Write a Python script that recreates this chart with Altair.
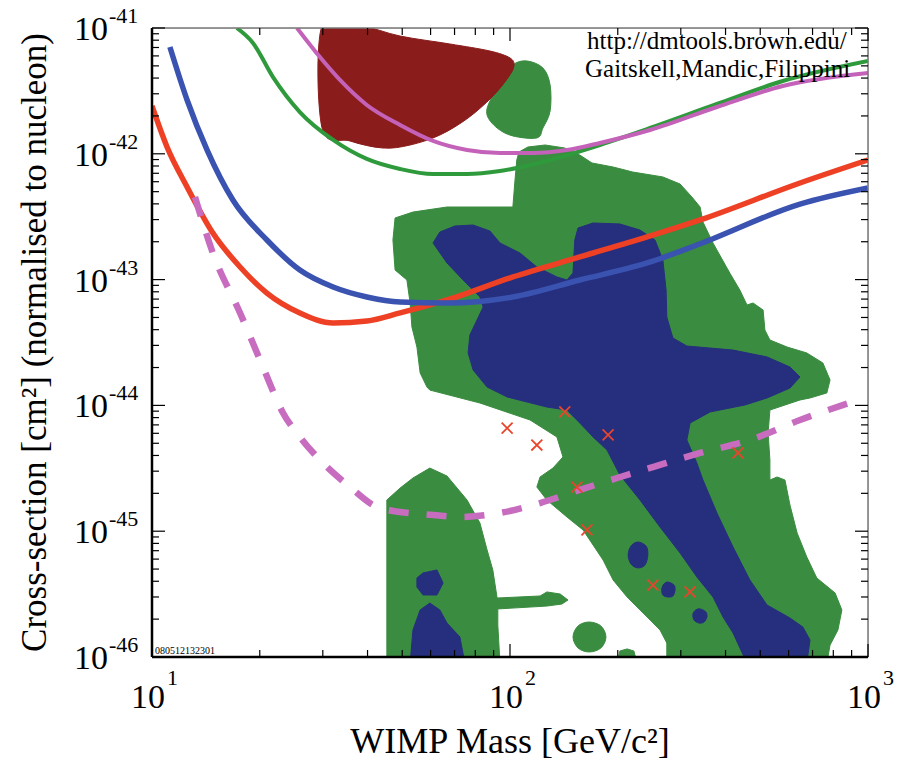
import altair as alt
import pandas as pd

W, H = 716, 629
SERIF = "Liberation Serif"

# ---------------- data (log10 of mass [GeV] and log10 of cross-section [cm^2]) -------------
green_outer = [(2.019,-42.049),(2.025,-41.986),(2.050,-41.946),(2.098,-41.930),(2.153,-41.954),
    (2.195,-42.010),(2.229,-42.073),(2.288,-42.105),(2.343,-42.145),(2.427,-42.184),(2.475,-42.240),
    (2.508,-42.343),(2.531,-42.423),(2.539,-42.542),(2.567,-42.709),(2.614,-42.948),(2.642,-43.083),
    (2.662,-43.202),(2.679,-43.186),(2.707,-43.242),(2.712,-43.401),(2.726,-43.480),(2.774,-43.536),
    (2.829,-43.583),(2.874,-43.663),(2.894,-43.798),(2.885,-43.901),(2.838,-43.941),(2.810,-43.957),
    (2.726,-44.037),(2.721,-44.219),(2.726,-44.434),(2.726,-44.593),(2.746,-44.569),(2.768,-44.593),
    (2.782,-44.792),(2.802,-45.014),(2.829,-45.205),(2.857,-45.372),(2.908,-45.491),(2.927,-45.626),
    (2.916,-45.785),(2.894,-45.905),(2.885,-46.05),(2.438,-46.05),(2.438,-45.889),(2.419,-45.785),
    (2.383,-45.682),(2.327,-45.523),(2.288,-45.388),(2.260,-45.229),(2.204,-44.990),(2.159,-44.887),
    (2.103,-44.752),(2.075,-44.649),(2.084,-44.569),(2.120,-44.498),(2.148,-44.410),(2.131,-44.251),
    (2.056,-44.116),(1.916,-43.981),(1.776,-43.878),(1.768,-43.854),(1.749,-43.742),(1.740,-43.536),
    (1.726,-43.377),(1.721,-43.186),(1.712,-43.003),(1.679,-42.924),(1.673,-42.685),(1.679,-42.510),
    (1.729,-42.463),(1.824,-42.423),(1.916,-42.423),(2.008,-42.423),(2.014,-42.208)]
green_lowleft = [(1.656,-46.05),(1.656,-44.752),(1.693,-44.657),(1.729,-44.577),(1.776,-44.498),
    (1.824,-44.561),(1.880,-44.752),(1.916,-44.935),(1.936,-45.149),(1.952,-45.308),(1.964,-45.531),
    (2.084,-45.515),(2.103,-45.483),(2.140,-45.499),(2.162,-45.547),(2.145,-45.579),(2.103,-45.595),
    (1.966,-45.618),(1.966,-45.746),(1.972,-46.05)]
green_bump = [(2.299,-46.05),(2.307,-45.952),(2.327,-45.936),(2.346,-45.952),(2.355,-46.05)]
green_top_blob = [(2.008,-41.294),(2.047,-41.262),(2.092,-41.318),(2.112,-41.453),(2.112,-41.660),
    (2.092,-41.795),(2.075,-41.874),(2.008,-41.858),(1.964,-41.795),(1.936,-41.692),(1.944,-41.580),
    (1.980,-41.421)]
green_round = [(2.221,-45.722),(2.254,-45.754),(2.268,-45.841),(2.254,-45.928),(2.221,-45.960),
    (2.190,-45.928),(2.176,-45.841),(2.190,-45.754)]

red_region = [(1.475,-40.98),(1.581,-40.98),(1.693,-41.064),(1.832,-41.127),(1.944,-41.183),
    (2.000,-41.238),(2.011,-41.302),(1.994,-41.397),(1.950,-41.548),(1.883,-41.715),(1.804,-41.851),
    (1.721,-41.930),(1.645,-41.954),(1.553,-41.898),(1.475,-41.795)]

blue_main = [(1.785,-42.709),(1.804,-42.622),(1.846,-42.574),(1.897,-42.566),(1.944,-42.614),
    (1.972,-42.709),(2.028,-42.789),(2.075,-42.900),(2.131,-42.979),(2.159,-43.003),(2.176,-42.948),
    (2.181,-42.685),(2.190,-42.590),(2.232,-42.550),(2.307,-42.558),(2.363,-42.606),(2.405,-42.685),
    (2.427,-42.844),(2.436,-43.083),(2.438,-43.297),(2.455,-43.464),(2.494,-43.528),(2.623,-43.560),
    (2.718,-43.615),(2.782,-43.695),(2.810,-43.774),(2.782,-43.862),(2.718,-43.941),(2.656,-43.997),
    (2.559,-44.052),(2.503,-44.140),(2.494,-44.275),(2.522,-44.458),(2.539,-44.593),(2.578,-44.855),
    (2.623,-45.126),(2.670,-45.388),(2.718,-45.587),(2.782,-45.690),(2.818,-45.762),(2.838,-45.865),
    (2.829,-46.05),(2.662,-46.05),(2.623,-45.809),(2.595,-45.682),(2.567,-45.523),(2.522,-45.364),
    (2.475,-45.173),(2.419,-44.967),(2.363,-44.752),(2.307,-44.553),(2.271,-44.355),(2.232,-44.251),
    (2.195,-44.140),(2.159,-44.037),(2.103,-44.013),(1.992,-43.933),(1.936,-43.854),(1.897,-43.719),
    (1.883,-43.583),(1.888,-43.440),(1.925,-43.218),(1.916,-43.138),(1.869,-43.003),(1.824,-42.868)]
blue_low1 = [(1.757,-45.332),(1.796,-45.308),(1.813,-45.412),(1.796,-45.507),(1.757,-45.507),
    (1.740,-45.444),(1.740,-45.372)]
blue_low2 = [(1.776,-45.571),(1.804,-45.626),(1.824,-45.730),(1.860,-45.841),(1.874,-46.05),
    (1.721,-46.05),(1.729,-45.785),(1.749,-45.626)]
blue_dot_a = [(2.357,-45.086),(2.380,-45.118),(2.385,-45.189),(2.377,-45.269),(2.357,-45.292),
    (2.338,-45.261),(2.330,-45.189),(2.338,-45.118)]
blue_dot_b = [(2.441,-45.404),(2.458,-45.428),(2.461,-45.467),(2.455,-45.515),(2.441,-45.523),
    (2.427,-45.507),(2.424,-45.459),(2.430,-45.420)]
blue_dot_c = [(2.531,-45.618),(2.547,-45.642),(2.550,-45.682),(2.542,-45.722),(2.528,-45.730),
    (2.514,-45.706),(2.511,-45.658),(2.519,-45.626)]

# limit curves
green_curve = [(1.237,-41.0),(1.282,-41.119),(1.338,-41.390),(1.413,-41.668),(1.506,-41.890),
    (1.600,-42.041),(1.693,-42.121),(1.785,-42.161),(1.880,-42.161),(1.972,-42.137),(2.019,-42.113),
    (2.112,-42.049),(2.251,-41.930),(2.391,-41.795),(2.578,-41.604),(2.762,-41.421),(3.0,-41.262)]
magenta_curve = [(1.405,-41.0),(1.469,-41.231),(1.525,-41.413),(1.600,-41.612),(1.693,-41.771),
    (1.785,-41.898),(1.880,-41.970),(1.972,-41.994),(2.064,-41.994),(2.159,-41.970),(2.251,-41.914),
    (2.391,-41.811),(2.578,-41.628),(2.762,-41.461),(3.0,-41.358)]
red_curve = [(1.0,-41.620),(1.042,-41.946),(1.098,-42.264),(1.170,-42.630),(1.246,-42.900),
    (1.321,-43.107),(1.413,-43.265),(1.506,-43.345),(1.600,-43.329),(1.693,-43.265),(1.824,-43.162),
    (2.008,-42.979),(2.195,-42.820),(2.383,-42.661),(2.531,-42.526),(2.810,-42.232),(3.0,-42.049)]
blue_curve = [(1.050,-41.151),(1.098,-41.572),(1.154,-41.970),(1.226,-42.367),(1.321,-42.685),
    (1.413,-42.924),(1.506,-43.059),(1.600,-43.138),(1.693,-43.178),(1.824,-43.186),(2.008,-43.138),
    (2.195,-43.003),(2.383,-42.868),(2.531,-42.715),(2.810,-42.400),(3.0,-42.272)]
magenta_dashed = [(1.120,-42.343),(1.170,-42.789),(1.246,-43.265),(1.310,-43.695),(1.366,-44.060),
    (1.413,-44.251),(1.461,-44.410),(1.553,-44.649),(1.628,-44.808),(1.693,-44.847),(1.785,-44.871),
    (1.860,-44.887),(1.972,-44.855),(2.084,-44.776),(2.195,-44.672),(2.299,-44.577),(2.399,-44.490),
    (2.531,-44.378),(2.670,-44.275),(2.810,-44.116),(2.955,-43.973)]

# model points (x)
points_lm = [1.992, 2.075, 2.153, 2.274, 2.187, 2.215, 2.399, 2.503, 2.637]
points_ls = [-44.180, -44.315, -44.052, -44.235, -44.649, -44.990, -45.428, -45.483, -44.378]

# axis ticks / labels / texts
x_major = [10, 100, 1000]
x_minor = [k * 10 ** e for e in (1, 2) for k in range(2, 10)]
y_major = [10.0 ** e for e in range(-46, -40)]
y_minor = [k * 10.0 ** e for e in range(-46, -41) for k in range(2, 10)]
x_label_sup = ["1", "2", "3"]
y_label_sup = ["-46", "-45", "-44", "-43", "-42", "-41"]
note_lines = ["http://dmtools.brown.edu/", "Gaitskell,Mandic,Filippini"]
x_title = "WIMP Mass [GeV/c²]"
y_title = "Cross-section [cm²] (normalised to nucleon)"
stamp_text = "080512132301"

# ---------------- helpers -------------
xs = alt.Scale(type="log", domain=[10, 1000], nice=False)
ys = alt.Scale(type="log", domain=[1e-46, 1e-41], nice=False)


def to_df(pairs, name="p"):
    return pd.DataFrame({"id": name, "i": list(range(len(pairs))),
                         "mass": [10 ** a for a, b in pairs],
                         "sigma": [10 ** b for a, b in pairs]})


def polys(named, color, interp):
    df = pd.concat([to_df(p, n) for n, p in named.items()], ignore_index=True)
    return alt.Chart(df).mark_line(interpolate=interp, fill=color, stroke=color,
                                   strokeWidth=1, clip=True).encode(
        x=alt.X("mass:Q", scale=xs, axis=None),
        y=alt.Y("sigma:Q", scale=ys, axis=None),
        detail="id:N", order="i:Q")


def curve(pairs, color, width, dash=None):
    kw = dict(color=color, strokeWidth=width, interpolate="monotone", clip=True)
    if dash:
        kw["strokeDash"] = dash
        kw["strokeCap"] = "butt"
    return alt.Chart(to_df(pairs)).mark_line(**kw).encode(
        x=alt.X("mass:Q", scale=xs, axis=None),
        y=alt.Y("sigma:Q", scale=ys, axis=None),
        order="i:Q")


def xticks(vals, length, side):
    c = alt.Chart(pd.DataFrame({"v": vals})).mark_rule(color="black", strokeWidth=1.2)
    if side == "bottom":
        return c.encode(x=alt.X("v:Q", scale=xs, axis=None), y=alt.value(H), y2=alt.value(H - length))
    return c.encode(x=alt.X("v:Q", scale=xs, axis=None), y=alt.value(0), y2=alt.value(length))


def yticks(vals, length, side):
    c = alt.Chart(pd.DataFrame({"v": vals})).mark_rule(color="black", strokeWidth=1.2)
    if side == "left":
        return c.encode(y=alt.Y("v:Q", scale=ys, axis=None), x=alt.value(0), x2=alt.value(length))
    return c.encode(y=alt.Y("v:Q", scale=ys, axis=None), x=alt.value(W), x2=alt.value(W - length))


def label(text, xpix, ypix, size, align="left", angle=0, clip=False):
    return alt.Chart(pd.DataFrame({"t": [text]})).mark_text(
        align=align, baseline="alphabetic", font=SERIF, fontSize=size, color="black",
        angle=angle, clip=clip).encode(x=alt.value(xpix), y=alt.value(ypix), text="t:N")


# ---------------- layers -------------
green_lin = polys({"outer": green_outer, "lowleft": green_lowleft, "bump": green_bump},
                  "#3a8c40", "linear-closed")
green_smooth = polys({"top": green_top_blob, "round": green_round}, "#3a8c40", "cardinal-closed")
red_poly = polys({"red": red_region}, "#8a1c1c", "cardinal-closed")
blue_lin = polys({"main": blue_main, "low1": blue_low1, "low2": blue_low2}, "#262e7e", "linear-closed")
blue_smooth = polys({"a": blue_dot_a, "b": blue_dot_b, "c": blue_dot_c}, "#262e7e", "cardinal-closed")

lines = [
    curve(green_curve, "#2f9a3c", 4),
    curve(magenta_curve, "#c462b9", 4),
    curve(red_curve, "#ee4024", 5.5),
    curve(blue_curve, "#3a52b0", 5.5),
    curve(magenta_dashed, "#c86cc0", 6.5, dash=[20, 18]),
]

pts = alt.Chart(pd.DataFrame({"mass": [10 ** v for v in points_lm],
                              "sigma": [10 ** v for v in points_ls]})).mark_point(
    shape="M -1 -1 L 1 1 M -1 1 L 1 -1", filled=False, color="#e8452c",
    strokeWidth=1.8, size=120, opacity=1).encode(
    x=alt.X("mass:Q", scale=xs, axis=None), y=alt.Y("sigma:Q", scale=ys, axis=None))

frame_df = pd.DataFrame({"a": [0]})
frame = [
    alt.Chart(frame_df).mark_rule(color="#777", strokeWidth=1.5).encode(
        x=alt.value(0), x2=alt.value(W), y=alt.value(0)),
    alt.Chart(frame_df).mark_rule(color="#777", strokeWidth=1.5).encode(
        x=alt.value(W), y=alt.value(0), y2=alt.value(H)),
    alt.Chart(frame_df).mark_rule(color="black", strokeWidth=2.5).encode(
        x=alt.value(0), y=alt.value(0), y2=alt.value(H)),
    alt.Chart(frame_df).mark_rule(color="black", strokeWidth=2.5).encode(
        x=alt.value(0), x2=alt.value(W), y=alt.value(H)),
]

ticks = [
    xticks(x_major, 13, "bottom"), xticks(x_minor, 7, "bottom"),
    xticks(x_major, 13, "top"), xticks(x_minor, 7, "top"),
    yticks(y_major, 13, "left"), yticks(y_minor, 7, "left"),
    yticks(y_major, 13, "right"), yticks(y_minor, 7, "right"),
]

xlab = pd.DataFrame({"v": x_major, "base": "10", "sup": x_label_sup})
ylab = pd.DataFrame({"v": y_major, "base": "10", "sup": y_label_sup})
xl_base = alt.Chart(xlab).mark_text(align="right", baseline="alphabetic", dx=13, font=SERIF,
                                    fontSize=34, color="black").encode(
    x=alt.X("v:Q", scale=xs, axis=None), y=alt.value(H + 51), text="base:N")
xl_sup = alt.Chart(xlab).mark_text(align="left", baseline="alphabetic", dx=15, font=SERIF,
                                   fontSize=22, color="black").encode(
    x=alt.X("v:Q", scale=xs, axis=None), y=alt.value(H + 28), text="sup:N")
yl_base = alt.Chart(ylab).mark_text(align="right", baseline="alphabetic", dy=12, font=SERIF,
                                    fontSize=34, color="black").encode(
    y=alt.Y("v:Q", scale=ys, axis=None), x=alt.value(-44), text="base:N")
yl_sup = alt.Chart(ylab).mark_text(align="left", baseline="alphabetic", dy=-5, font=SERIF,
                                   fontSize=22, color="black").encode(
    y=alt.Y("v:Q", scale=ys, axis=None), x=alt.value(-43), text="sup:N")

texts = [
    label(note_lines[0], 435, 21, 25, clip=True),
    label(note_lines[1], 433, 49, 25, clip=True),
    label(stamp_text, 3, H - 3, 10),
    label(x_title, W / 2, H + 96, 36, align="center"),
    label(y_title, -106, H / 2, 35, align="center", angle=270),
]

chart = alt.layer(
    green_lin, green_smooth, red_poly, blue_lin, blue_smooth,
    *lines, pts, *frame, *ticks,
    xl_base, xl_sup, yl_base, yl_sup, *texts
).properties(
    width=W, height=H, autosize="none",
    padding={"left": 152, "top": 28, "right": 35, "bottom": 108}
).configure_view(stroke=None).configure(background="white")

chart.save("out.html", embed_options={"renderer": "svg", "actions": False})
